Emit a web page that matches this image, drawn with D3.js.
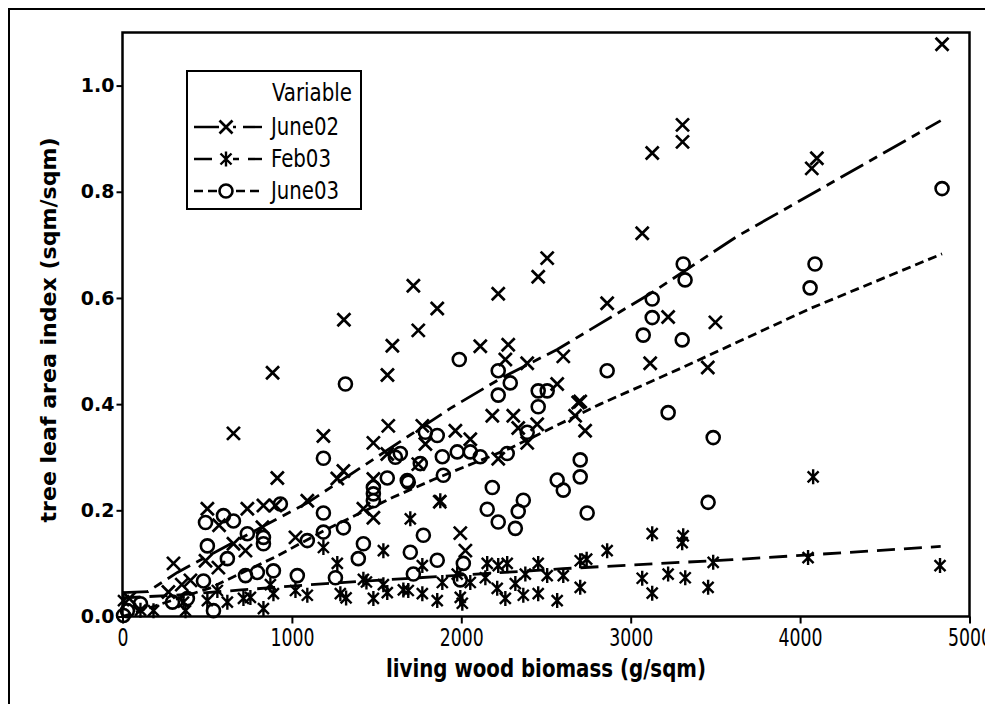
<!DOCTYPE html>
<html>
<head>
<meta charset="utf-8">
<script src="https://cdn.jsdelivr.net/npm/d3@7/dist/d3.min.js"></script>
<style>
  html, body { margin: 0; padding: 0; background: #fff; }
  svg { display: block; }
</style>
</head>
<body>
<svg id="chart" width="985" height="704"></svg>
<script>
// ---- data: living wood biomass (g/sqm) vs tree leaf area index (sqm/sqm)
const seriesNames = ["June02", "Feb03", "June03"];

const june02Points = [
  [4838,1.078],[3306,0.926],[3306,0.894],[3127,0.873],[4069,0.844],[4099,0.863],
  [3068,0.722],[2507,0.675],[2454,0.640],[1717,0.623],[2218,0.608],[2861,0.590],
  [1858,0.580],[1307,0.559],[3221,0.564],[3500,0.554],[1746,0.539],[1593,0.510],
  [2112,0.509],[2277,0.512],[3115,0.477],[3455,0.469],[886,0.459],[1564,0.455],
  [2602,0.490],[2260,0.484],[2389,0.477],[2566,0.438],[2690,0.403],[2183,0.378],
  [2307,0.378],[655,0.345],[1186,0.340],[1569,0.359],[1770,0.359],[1965,0.350],
  [2053,0.334],[1788,0.325],[1481,0.327],[2336,0.355],[2448,0.362],[2389,0.327],
  [2672,0.378],[2731,0.350],[2702,0.405],[1746,0.287],[2218,0.297],[914,0.261],
  [1304,0.274],[1268,0.260],[1481,0.259],[1563,0.306],[1091,0.218],[1422,0.203],
  [1481,0.186],[1873,0.216],[501,0.203],[737,0.203],[832,0.209],[903,0.209],
  [826,0.168],[570,0.172],[655,0.137],[1994,0.157],[2024,0.124],[1021,0.149],
  [726,0.124],[490,0.105],[301,0.100],[566,0.092],[401,0.068],[40,0.034],
  [271,0.046],[350,0.060]
];

const feb03Points = [
  [4077,0.263],[4826,0.096],[4047,0.111],[3487,0.102],[3457,0.055],[3322,0.073],
  [3310,0.152],[3304,0.139],[3127,0.156],[3068,0.072],[3127,0.044],[3221,0.080],
  [2861,0.124],[2702,0.105],[2740,0.108],[2602,0.077],[2702,0.055],[2566,0.030],
  [2454,0.043],[2454,0.100],[2507,0.077],[2366,0.040],[2378,0.080],[2319,0.062],
  [2271,0.100],[2218,0.096],[2212,0.053],[2260,0.034],[2153,0.100],[2142,0.073],
  [2053,0.064],[2006,0.025],[1994,0.036],[1976,0.080],[1888,0.064],[1858,0.030],
  [1770,0.043],[1687,0.049],[1770,0.096],[1876,0.218],[1699,0.184],[1186,0.130],
  [1540,0.124],[1481,0.034],[1563,0.045],[1286,0.043],[1091,0.040],[1021,0.049],
  [891,0.043],[832,0.015],[755,0.036],[714,0.034],[619,0.027],[501,0.030],
  [560,0.049],[360,0.027],[372,0.011],[183,0.011],[106,0.012],[6,0.030],
  [873,0.060],[1268,0.100],[1422,0.070],[1658,0.050],[1540,0.060],[1320,0.035],
  [1440,0.065]
];

const june03Points = [
  [4838,0.806],[4088,0.664],[4059,0.619],[3310,0.664],[3321,0.634],[3487,0.337],
  [3457,0.215],[3127,0.598],[3127,0.563],[3074,0.530],[3304,0.521],[2861,0.463],
  [3221,0.384],[2218,0.463],[2289,0.440],[2454,0.425],[2507,0.425],[2454,0.395],
  [2218,0.417],[1988,0.484],[1316,0.438],[2702,0.295],[2702,0.263],[2566,0.257],
  [2602,0.238],[2743,0.195],[2183,0.243],[2153,0.202],[2218,0.178],[2319,0.166],
  [2336,0.198],[2366,0.219],[2389,0.347],[2271,0.307],[2112,0.301],[2053,0.310],
  [1976,0.310],[1888,0.301],[1894,0.266],[1858,0.341],[1788,0.347],[1687,0.253],
  [1776,0.153],[1699,0.121],[1858,0.106],[2012,0.100],[1994,0.069],[1717,0.080],
  [1640,0.307],[1758,0.288],[1186,0.298],[1611,0.300],[1681,0.256],[1563,0.261],
  [1481,0.243],[1481,0.231],[1481,0.218],[1186,0.195],[1186,0.159],[1091,0.143],
  [1304,0.167],[1422,0.137],[1392,0.109],[1257,0.073],[1032,0.077],[932,0.212],
  [832,0.149],[832,0.137],[891,0.086],[796,0.083],[726,0.077],[737,0.156],
  [655,0.180],[596,0.190],[490,0.177],[501,0.133],[619,0.109],[478,0.067],
  [537,0.011],[383,0.034],[295,0.027],[106,0.024],[29,0.011],[6,0.002]
];

// smoothed fit curves for each series
const june02Fit = [
  [0,0.045],[150,0.047],[324,0.083],[814,0.167],[1091,0.214],[1500,0.300],
  [1935,0.392],[2230,0.448],[2566,0.503],[3115,0.608],[3628,0.716],[4830,0.934]
];
const feb03Fit = [
  [0,0.035],[300,0.040],[700,0.050],[1200,0.062],[1500,0.068],[2000,0.078],
  [2600,0.090],[3000,0.097],[3600,0.107],[4250,0.120],[4830,0.132]
];
const june03Fit = [
  [0,0.000],[165,0.017],[519,0.054],[914,0.114],[1209,0.165],[1600,0.225],
  [1836,0.258],[2289,0.317],[2820,0.400],[3292,0.467],[4059,0.580],[4838,0.683]
];

const xTicks = [0, 1000, 2000, 3000, 4000, 5000];
const yTicks = [0.0, 0.2, 0.4, 0.6, 0.8, 1.0];

// ---- layout
const svg = d3.select("#chart");
const plot = { left: 122.5, right: 969.5, top: 32.5, bottom: 616.5 };

const x = d3.scaleLinear().domain([0, 5000]).range([plot.left, plot.right]);
const y = d3.scaleLinear().domain([0, 1.1]).range([plot.bottom, plot.top]);

const narrow = "'DejaVu Sans Condensed', 'DejaVu Sans', sans-serif";
const wide = "'DejaVu Sans', Verdana, sans-serif";

// outer border of the figure
svg.append("path")
  .attr("d", "M9,712 L9,9 L990,9")
  .attr("fill", "none").attr("stroke", "#000").attr("stroke-width", 2);

// marker shapes
const markers = {
  June02: g => g.append("path").attr("d", "M-6.5,-6.5L6.5,6.5M-6.5,6.5L6.5,-6.5")
    .attr("fill", "none").attr("stroke", "#000").attr("stroke-width", 2.7),
  Feb03: g => g.append("path").attr("d", "M-5.5,-5.5L5.5,5.5M-5.5,5.5L5.5,-5.5M0,-7.5L0,7.5")
    .attr("fill", "none").attr("stroke", "#000").attr("stroke-width", 2.4),
  June03: g => g.append("circle").attr("r", 6.5)
    .attr("fill", "none").attr("stroke", "#000").attr("stroke-width", 2.6)
};
const dashes = { June02: "26,7,9,7", Feb03: "18,9", June03: "9,5" };

const series = [
  { name: "June02", pts: june02Points, fit: june02Fit },
  { name: "Feb03", pts: feb03Points, fit: feb03Fit },
  { name: "June03", pts: june03Points, fit: june03Fit }
];

// points
series.forEach(s => {
  const g = svg.append("g").attr("class", "pts-" + s.name);
  s.pts.forEach(p => {
    const m = g.append("g").attr("transform", `translate(${x(p[0])},${y(p[1])})`);
    markers[s.name](m);
  });
});

// fit lines
const line = d3.line().x(d => x(d[0])).y(d => y(d[1]));
series.forEach(s => {
  svg.append("path").datum(s.fit)
    .attr("d", line)
    .attr("fill", "none").attr("stroke", "#000")
    .attr("stroke-width", 2.8)
    .attr("stroke-dasharray", dashes[s.name]);
});

// axes
const xAxis = svg.append("g")
  .attr("transform", `translate(0,${plot.bottom})`)
  .call(d3.axisBottom(x).tickValues(xTicks).tickSize(7).tickPadding(5).tickFormat(d3.format("d")));
xAxis.select(".domain").remove();
xAxis.selectAll("line").attr("stroke", "#000").attr("stroke-width", 2);
xAxis.selectAll("text")
  .attr("font-family", narrow).attr("font-size", 25).attr("fill", "#000")
  .attr("textLength", d => String(d).length * 11)
  .attr("lengthAdjust", "spacingAndGlyphs");

const yAxis = svg.append("g")
  .attr("transform", `translate(${plot.left},0)`)
  .call(d3.axisLeft(y).tickValues(yTicks).tickSize(6).tickPadding(2).tickFormat(d3.format(".1f")));
yAxis.select(".domain").remove();
yAxis.selectAll("line").attr("stroke", "#000").attr("stroke-width", 2);
yAxis.selectAll("text").attr("font-family", wide).attr("font-weight", "bold")
  .attr("font-size", 19).attr("fill", "#000");

// plot frame
svg.append("rect")
  .attr("x", plot.left).attr("y", plot.top)
  .attr("width", plot.right - plot.left).attr("height", plot.bottom - plot.top)
  .attr("fill", "none").attr("stroke", "#000").attr("stroke-width", 2.5);

// axis titles
svg.append("text")
  .attr("x", 546).attr("y", 677)
  .attr("text-anchor", "middle")
  .attr("font-family", narrow).attr("font-weight", "bold").attr("font-size", 24)
  .attr("textLength", 320).attr("lengthAdjust", "spacingAndGlyphs")
  .text("living wood biomass (g/sqm)");

svg.append("text")
  .attr("transform", "translate(56,330) rotate(-90)")
  .attr("text-anchor", "middle")
  .attr("font-family", wide).attr("font-weight", "bold").attr("font-size", 21)
  .attr("textLength", 385).attr("lengthAdjust", "spacingAndGlyphs")
  .text("tree leaf area index (sqm/sqm)");

// legend
const lg = svg.append("g");
lg.append("rect").attr("x", 187).attr("y", 71).attr("width", 174).attr("height", 138)
  .attr("fill", "#fff").attr("stroke", "#000").attr("stroke-width", 2);
lg.append("text").attr("x", 352).attr("y", 101).attr("text-anchor", "end")
  .attr("font-family", narrow).attr("font-size", 24)
  .attr("textLength", 80).attr("lengthAdjust", "spacingAndGlyphs").text("Variable");
const legendY = [127, 159, 191];
const legendW = [68, 60, 68];
series.forEach((s, i) => {
  const cy = legendY[i];
  lg.append("line").attr("x1", 194).attr("x2", 262).attr("y1", cy).attr("y2", cy)
    .attr("stroke", "#000").attr("stroke-width", 2.4).attr("stroke-dasharray", dashes[s.name]);
  const m = lg.append("g").attr("transform", `translate(226,${cy})`);
  m.append("rect").attr("x", -7).attr("y", -4).attr("width", 14).attr("height", 8).attr("fill", "#fff");
  markers[s.name](m);
  lg.append("text").attr("x", 271).attr("y", cy + 8)
    .attr("font-family", narrow).attr("font-size", 24)
    .attr("textLength", legendW[i]).attr("lengthAdjust", "spacingAndGlyphs").text(s.name);
});
</script>
</body>
</html>
